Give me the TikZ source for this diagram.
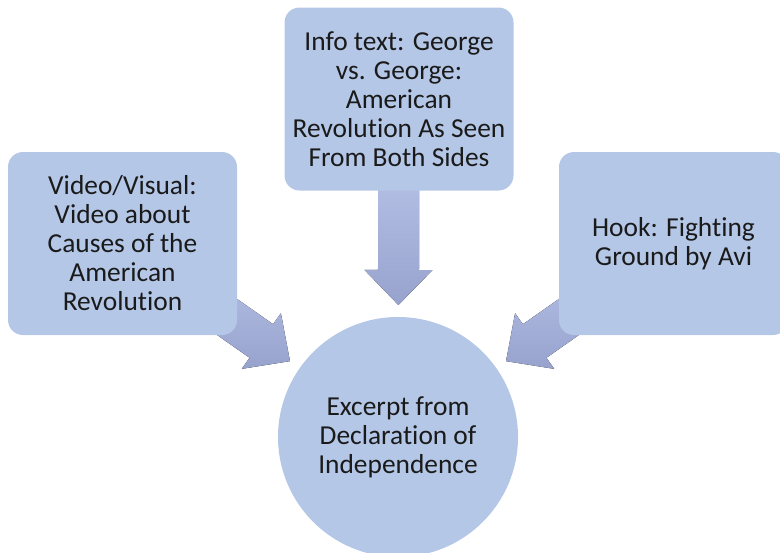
\documentclass[tikz,border=0pt]{standalone}
\usepackage{fontspec}
\setmainfont[Ligatures=NoCommon]{Carlito}
\usepackage{tikz}
\usetikzlibrary{calc, backgrounds, positioning}

\definecolor{boxblue}{HTML}{B4C7E7}
\definecolor{arrowtop}{HTML}{B0BCE2}
\definecolor{arrowbot}{HTML}{97A3CD}
\definecolor{inkgray}{HTML}{1A1A1A}

\tikzset{
	box/.style={rectangle, rounded corners=7.5pt, fill=boxblue, minimum width=114.5pt, minimum height=91.5pt, inner sep=0pt, align=center, text=inkgray, font=\fontsize{13.7pt}{14.5pt}\selectfont},
	hub/.style={circle, fill=boxblue, minimum size=120pt, inner sep=0pt, align=center, text=inkgray, font=\fontsize{13.7pt}{14.5pt}\selectfont},
	blockfill/.style={top color=arrowtop, bottom color=arrowbot}
}

% block arrow from a box towards the hub
\newcommand{\blockarrow}[1]{%
	\coordinate (tip) at ($(hub)!66pt!(#1)$);
	\coordinate (neck) at ($(hub)!83.5pt!(#1)$);
	\coordinate (tail) at ($(hub)!123.5pt!(#1)$);
	\fill[blockfill] ($(tail)!10.25pt!90:(tip)$) -- ($(neck)!10.25pt!90:(tip)$) -- ($(neck)!17pt!90:(tip)$) -- (tip) -- ($(neck)!17pt!-90:(tip)$) -- ($(neck)!10.25pt!-90:(tip)$) -- ($(tail)!10.25pt!-90:(tip)$) -- cycle;
}

\begin{document}
\begin{tikzpicture}
				\useasboundingbox (0,0) rectangle (390pt,-276pt);
				\clip (0,0) rectangle (390pt,-276pt);
				
				\node [hub] (hub) at (199pt,-218.5pt) {Excerpt from\\Declaration of\\Independence};
				\node [box] (info) at (199.5pt,-49.5pt) {Info text: George\\vs. George:\\American\\Revolution As Seen\\From Both Sides};
				\node [box] (video) at (61.25pt,-121.75pt) {Video/Visual:\\Video about\\Causes of the\\American\\Revolution};
				\node [box] (hook) at (336.75pt,-121.75pt) {Hook: Fighting\\Ground by Avi};
				
				\begin{pgfonlayer}{background}
					\blockarrow{video}
					\blockarrow{info}
					\blockarrow{hook}
				\end{pgfonlayer}
\end{tikzpicture}
\end{document}
